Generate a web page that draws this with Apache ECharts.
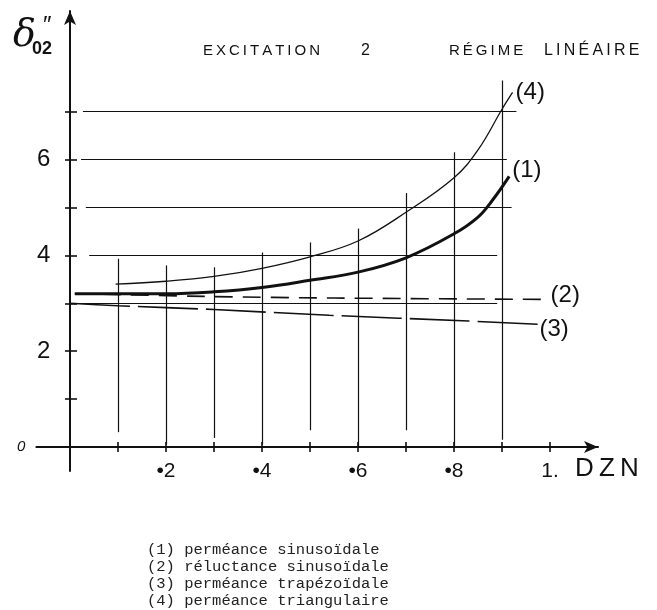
<!DOCTYPE html>
<html><head><meta charset="utf-8">
<script src="https://cdn.jsdelivr.net/npm/echarts@6/dist/echarts.min.js"></script>
<style>html,body{margin:0;padding:0;background:#fff}#c{width:657px;height:610px}</style>
</head><body><div id="c"></div>
<script>
// ---- data ----
const seriesNames = ['(1) perméance sinusoïdale', '(2) réluctance sinusoïdale', '(3) perméance trapézoïdale', '(4) perméance triangulaire'];
const endTags = ['(1)', '(2)', '(3)', '(4)'];
const x1 = [0.01, 0.1, 0.2, 0.3, 0.4, 0.5, 0.6, 0.7, 0.8, 0.85, 0.88, 0.915];
const y1 = [3.2, 3.2, 3.2, 3.24, 3.33, 3.48, 3.65, 3.95, 4.45, 4.8, 5.15, 5.65];
const x2 = [0.01, 0.3, 0.55, 0.995];
const y2 = [3.2, 3.14, 3.11, 3.08];
const x3 = [0, 0.1, 0.3, 0.54, 0.83, 0.98];
const y3 = [3.0, 2.95, 2.87, 2.75, 2.63, 2.56];
const x4 = [0.095, 0.2, 0.3, 0.4, 0.5, 0.6, 0.7, 0.8, 0.85, 0.9, 0.922];
const y4 = [3.4, 3.46, 3.56, 3.73, 3.97, 4.3, 4.9, 5.62, 6.2, 7.05, 7.4];
// hand-drawn guide lines
const hGuideY = [3, 4, 5, 6, 7];
const hGuideFrom = [0.0, 0.04, 0.033, 0.023, 0.027];
const hGuideTo = [0.89, 0.89, 0.92, 0.91, 0.93];
const vGuideX = [0.1, 0.2, 0.3, 0.4, 0.5, 0.6, 0.7, 0.8, 0.9];
const vGuideFrom = [0.31, 0.05, 0.19, 0.05, 0.35, 0.02, 0.35, 0.02, 0.15];
const vGuideTo = [3.93, 3.79, 3.75, 4.06, 4.27, 4.56, 5.3, 6.15, 7.65];
// axis ticks and labels
const xTicks = [0.1, 0.2, 0.3, 0.4, 0.5, 0.6, 0.7, 0.8, 0.9, 1.0];
const xLabels = [0.2, 0.4, 0.6, 0.8, 1.0];
const yTicks = [1, 2, 3, 4, 5, 6, 7];
const yLabels = [0, 2, 4, 6];

const INK = '#111';
const zip = (a, b) => a.map((v, i) => [v, b[i]]);
const guideData = [];
hGuideY.forEach((v, i) => guideData.push([{coord: [hGuideFrom[i], v]}, {coord: [hGuideTo[i], v]}]));
vGuideX.forEach((v, i) => guideData.push([{coord: [v, vGuideFrom[i]]}, {coord: [v, vGuideTo[i]]}]));

const hand = 'Liberation Sans';
const xAxisBase = {type: 'value', min: -0.07, max: 1.1, position: 'bottom', splitLine: {show: false}};
const yAxisBase = {type: 'value', min: -0.5, max: 9.1, position: 'left', splitLine: {show: false}};

const endLabel = (i, off) => ({show: true, formatter: endTags[i], fontFamily: hand, fontSize: 24, color: INK, distance: 3, offset: off});

const option = {
  backgroundColor: '#fff',
  animation: false,
  title: [
    {text: 'δ', left: 8, top: 12, textStyle: {fontFamily: 'DejaVu Serif', fontStyle: 'italic', fontSize: 38, fontWeight: 'normal', color: INK}},
    {text: '02', left: 27, top: 35, textStyle: {fontFamily: hand, fontSize: 18, fontWeight: 'bold', color: INK}},
    {text: '″', left: 38, top: 9, textStyle: {fontFamily: hand, fontSize: 24, fontWeight: 'normal', color: INK}},
    {text: 'E\u2009X\u2009C\u2009I\u2009T\u2009A\u2009T\u2009I\u2009O\u2009N', left: 198, top: 38, textStyle: {fontFamily: hand, fontSize: 15, fontWeight: 'normal', color: INK}},
    {text: '2', left: 356, top: 38, textStyle: {fontFamily: hand, fontSize: 16, fontWeight: 'normal', color: INK}},
    {text: 'R\u2009É\u2009G\u2009I\u2009M\u2009E', left: 444, top: 38, textStyle: {fontFamily: hand, fontSize: 15, fontWeight: 'normal', color: INK}},
    {text: 'L\u2009I\u2009N\u2009É\u2009A\u2009I\u2009R\u2009E', left: 539, top: 38, textStyle: {fontFamily: hand, fontSize: 16, fontWeight: 'normal', color: INK}}
  ],
  legend: {
    orient: 'vertical', left: 141, top: 541, padding: 0, selectedMode: false,
    itemWidth: 1, itemHeight: 10, itemGap: 0,
    icon: 'rect', itemStyle: {opacity: 0}, lineStyle: {opacity: 0},
    textStyle: {fontFamily: 'Liberation Mono', fontSize: 15.5, color: '#222', lineHeight: 17},
    data: seriesNames
  },
  grid: {left: 36.4, right: 59, top: 11, bottom: 139, containLabel: false, outerBoundsMode: 'none'},
  xAxis: [
    Object.assign({}, xAxisBase, {
      name: 'D\u2009Z\u2009N', nameLocation: 'end', nameGap: -23,
      nameTextStyle: {fontFamily: hand, fontSize: 26, color: INK, align: 'left', verticalAlign: 'top', padding: [9, 0, 0, 0]},
      axisLine: {show: true, onZero: true, symbol: ['none', 'arrow'], symbolSize: [9, 14], lineStyle: {color: INK, width: 2}},
      axisTick: {show: true, customValues: xTicks, length: 5, lineStyle: {color: INK, width: 1.6}},
      axisLabel: {show: true, customValues: xLabels, margin: -10, fontFamily: hand, fontSize: 21, color: INK,
        formatter: v => (v >= 0.999 ? '1.' : '•' + Math.round(v * 10))}
    }),
    Object.assign({}, xAxisBase, {
      axisLine: {show: false, onZero: true},
      axisTick: {show: true, inside: true, customValues: xTicks, length: 5, lineStyle: {color: INK, width: 1.6}},
      axisLabel: {show: false}
    })
  ],
  yAxis: [
    Object.assign({}, yAxisBase, {
      axisLine: {show: true, onZero: true, symbol: ['none', 'arrow'], symbolSize: [9, 14], lineStyle: {color: INK, width: 2}},
      axisTick: {show: true, customValues: yTicks, length: 5, lineStyle: {color: INK, width: 1.6}},
      axisLabel: {show: true, customValues: yLabels, margin: -14, fontFamily: hand, fontSize: 24, color: INK,
        formatter: v => (v === 0 ? '{z|0}' : String(v)),
        rich: {z: {fontFamily: hand, fontSize: 15, fontStyle: 'italic', color: INK, padding: [0, 25, 0, 0]}}}
    }),
    Object.assign({}, yAxisBase, {
      axisLine: {show: false, onZero: true},
      axisTick: {show: true, inside: true, customValues: yTicks, length: 7, lineStyle: {color: INK, width: 1.6}},
      axisLabel: {show: false}
    })
  ],
  series: [
    {name: 'guides', type: 'line', data: [], silent: true,
      markLine: {silent: true, symbol: ['none', 'none'], label: {show: false}, animation: false,
        lineStyle: {color: INK, width: 1.2, type: 'solid'}, emphasis: {disabled: true}, data: guideData}},
    {name: seriesNames[0], type: 'line', data: zip(x1, y1), smooth: 0.4, showSymbol: false, color: INK,
      lineStyle: {color: INK, width: 3}, endLabel: endLabel(0, [0, -6])},
    {name: seriesNames[1], type: 'line', data: zip(x2, y2), smooth: 0.3, showSymbol: false, color: INK,
      lineStyle: {color: INK, width: 1.6, type: [18, 10]}, endLabel: endLabel(1, [0, -4])},
    {name: seriesNames[2], type: 'line', data: zip(x3, y3), smooth: 0.3, showSymbol: false, color: INK,
      lineStyle: {color: INK, width: 1.6, type: [60, 8]}, endLabel: endLabel(2, [-4, 5])},
    {name: seriesNames[3], type: 'line', data: zip(x4, y4), smooth: 0.4, showSymbol: false, color: INK,
      lineStyle: {color: INK, width: 1.3}, endLabel: endLabel(3, [0, 0])}
  ]
};
const chart = echarts.init(document.getElementById('c'), null, {renderer: 'canvas'});
chart.setOption(option);
</script></body></html>
